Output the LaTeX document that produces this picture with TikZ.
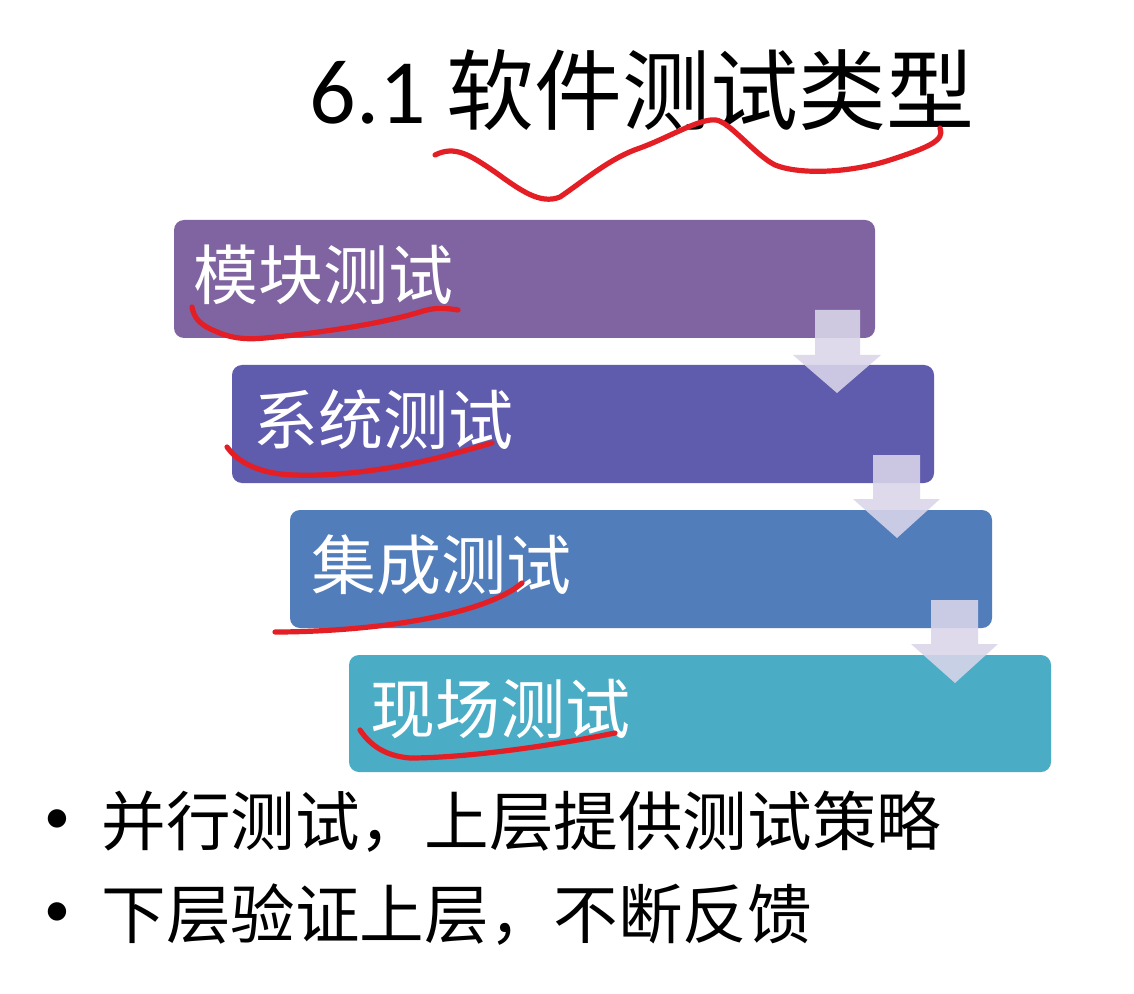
\documentclass[tikz,border=0pt]{standalone}
\usepackage{fontspec}
\newfontfamily\cjk{Noto Sans CJK SC}
\newfontfamily\lat{Carlito}
\definecolor{boxA}{HTML}{8064A2}
\definecolor{boxB}{HTML}{5F5BAD}
\definecolor{boxC}{HTML}{517DBB}
\definecolor{boxD}{HTML}{4BACC6}
\definecolor{arrowfill}{HTML}{DAD6EA}
\definecolor{ink}{HTML}{E31E24}
\tikzset{
  stepbox/.style={fill=#1, rounded corners=5pt, draw=none},
  boxlabel/.style={anchor=west, inner sep=0pt, text=white, font=\cjk\fontsize{32.5pt}{32.5pt}\selectfont},
  downarrow/.style={fill=arrowfill, fill opacity=0.88, draw=none},
  scribble/.style={draw=ink, line width=2.6pt, line cap=round, line join=round},
  bullettext/.style={anchor=west, inner sep=0pt, text=black, font=\cjk\fontsize{32.3pt}{32.3pt}\selectfont},
  bulletdot/.style={anchor=center, inner sep=0pt, font=\lat\fontsize{26pt}{26pt}\selectfont},
}
\begin{document}
\begin{tikzpicture}[x=0.5pt, y=-0.5pt]
\useasboundingbox[fill=white] (0,0) rectangle (1134,994);

% title
\node[anchor=base west, inner sep=0pt] (title) at (309,124)
  {{\lat\fontsize{46pt}{46pt}\selectfont 6.1 }{\cjk\fontsize{44pt}{44pt}\selectfont 软件测试类型}};

% boxes
\path[stepbox=boxA] (174,220) rectangle (875,338);
\path[stepbox=boxB] (232,365) rectangle (934,483);
\path[stepbox=boxC] (290,510) rectangle (992,628);
\path[stepbox=boxD] (349,655) rectangle (1051,772);
\coordinate (b1) at (174,279);
\coordinate (b2) at (232,424);
\coordinate (b3) at (290,569);
\coordinate (b4) at (349,713);

% arrows
\path[downarrow] (815,310) -- (860,310) -- (860,355) -- (881,355) -- (837,393) -- (793,355) -- (815,355) -- cycle;
\path[downarrow] (873,455) -- (920,455) -- (920,499) -- (940,499) -- (897,538) -- (853,499) -- (873,499) -- cycle;
\path[downarrow] (931,600) -- (978,600) -- (978,644) -- (998,644) -- (955,683) -- (911,644) -- (931,644) -- cycle;

% labels
\node[boxlabel] (l1) at ([xshift=9.5pt,yshift=2pt]b1) {模块测试};
\node[boxlabel] (l2) at ([xshift=10.5pt,yshift=2pt]b2) {系统测试};
\node[boxlabel] (l3) at ([xshift=10.5pt,yshift=2pt]b3) {集成测试};
\node[boxlabel] (l4) at ([xshift=10.5pt,yshift=2pt]b4) {现场测试};

% bullets
\node[bulletdot] (d1) at (57,822) {•};
\node[bulletdot] (d2) at (57,915) {•};
\node[bullettext] (t1) at (101,822) {并行测试，上层提供测试策略};
\node[bullettext] (t2) at (101,915) {下层验证上层，不断反馈};

% red scribbles
\path[scribble] (435,155) .. controls (455,145) and (470,155) .. (495,172)
  .. controls (520,190) and (540,205) .. (560,197)
  .. controls (585,180) and (610,158) .. (640,148)
  .. controls (670,137) and (700,118) .. (716,120)
  .. controls (730,122) and (755,155) .. (775,165)
  .. controls (800,175) and (850,173) .. (890,160)
  .. controls (930,147) and (945,140) .. (940,128);
\path[scribble] (192,307) .. controls (194,318) and (200,325) .. (215,331)
  .. controls (230,338) and (245,340) .. (265,338)
  .. controls (320,333) and (380,324) .. (420,312)
  .. controls (435,307) and (445,308) .. (458,310);
\path[scribble] (227,447) .. controls (235,458) and (250,470) .. (280,474)
  .. controls (320,478) and (380,472) .. (437,458)
  .. controls (460,452) and (478,447) .. (492,443);
\path[scribble] (275,632) .. controls (320,632) and (380,628) .. (430,618)
  .. controls (470,610) and (505,598) .. (522,583);
\path[scribble] (360,730) .. controls (370,745) and (385,756) .. (410,758)
  .. controls (460,758) and (540,748) .. (615,733);
\end{tikzpicture}
\end{document}
